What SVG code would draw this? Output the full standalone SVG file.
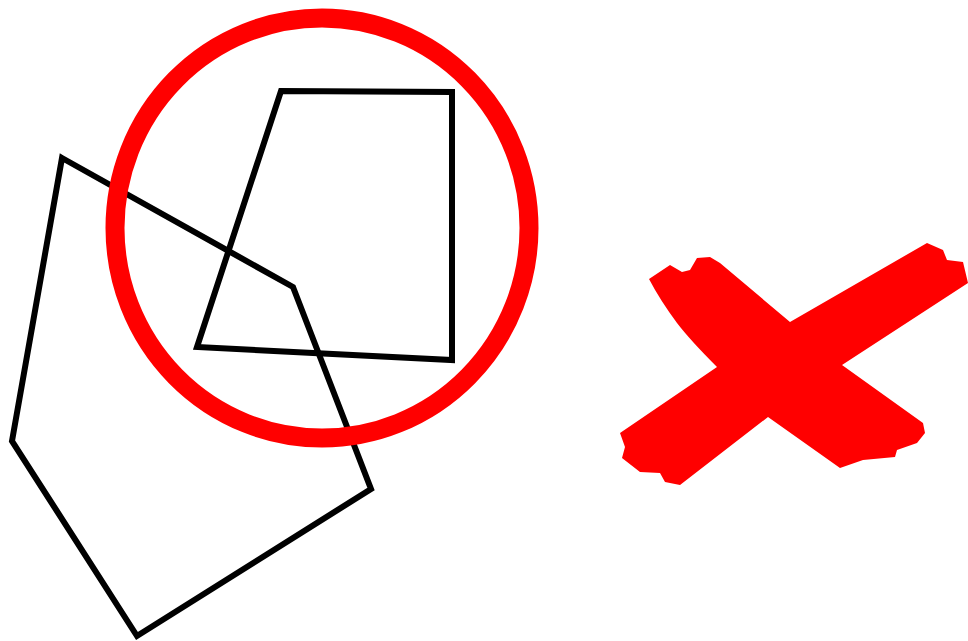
<svg xmlns="http://www.w3.org/2000/svg" width="968" height="641" viewBox="0 0 968 641">
<style>
.shape{fill:none;stroke:#000;stroke-width:6;stroke-linejoin:miter}
.ring{fill:none;stroke:#ff0000;stroke-width:19}
.cross{fill:#ff0000;stroke:none}
</style>
<rect width="968" height="641" fill="#fff"/>
<g id="pentagon"><polygon class="shape" points="62,158 293,287 371,489 137,636 12,441"/></g>
<g id="quad"><polygon class="shape" points="281,91 452,92 452,360 197,347"/></g>
<g id="ring"><ellipse class="ring" cx="322" cy="228" rx="207" ry="210"/></g>
<g id="cross"><path class="cross" d="M649,279 L670,265 L682,272 L690,270 L697,258 L710,257 L720,263 L790,322 L927,243 L943,250 L947,260 L963,262 L968,283 L842,365 L923,423 L925,433 L917,443 L897,450 L895,457 L863,460 L840,468 L768,417 L680,485 L665,482 L660,473 L640,472 L622,458 L625,447 L620,433 L717,367 Q690,340 677,323 Q660,300 649,279 Z"/></g>
</svg>
